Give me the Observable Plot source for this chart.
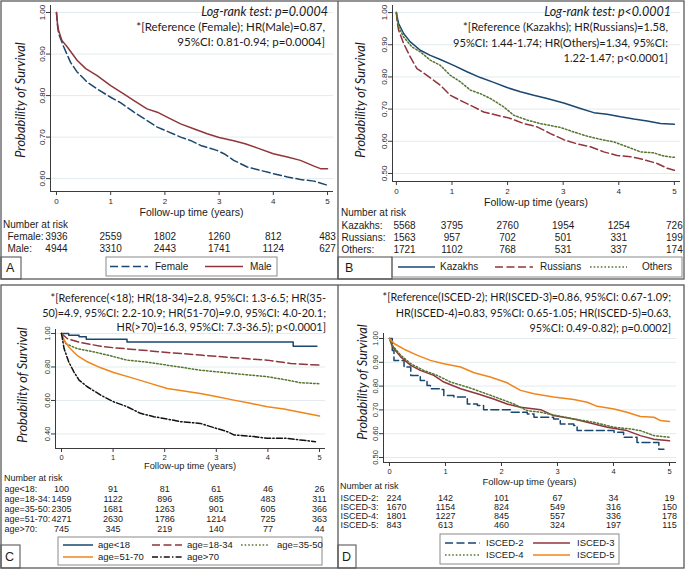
<!DOCTYPE html>
<html><head><meta charset="utf-8">
<script src="https://cdn.jsdelivr.net/npm/d3@7"></script>
<script src="https://cdn.jsdelivr.net/npm/@observablehq/plot@0.6"></script>
<style>
html,body{margin:0;padding:0;background:#fff;}
#root{position:relative;width:685px;height:570px;overflow:hidden;background:#fff;}
</style></head><body><div id="root"></div>
<script>
// ================= DATA =================
const yearTicks = [0, 1, 2, 3, 4, 5];

// ---- Panel A: sex ----
const femaleTime = [0,0.02,0.04,0.135,0.26,0.38,0.57,0.75,1.0,1.18,1.43,1.67,1.86,2.04,2.29,2.47,2.66,2.96,3.09,3.27,3.52,3.76,4.0,4.26,4.5,4.75,5.0];
const femaleSurv = [1,0.968,0.949,0.917,0.880,0.857,0.832,0.816,0.796,0.783,0.760,0.740,0.724,0.714,0.700,0.692,0.680,0.668,0.660,0.644,0.628,0.620,0.612,0.604,0.598,0.594,0.584];
const maleTime = [0,0.02,0.04,0.1,0.2,0.38,0.54,0.75,1.0,1.24,1.43,1.67,1.86,2.04,2.29,2.53,2.78,3.0,3.27,3.48,3.70,4.0,4.26,4.5,4.75,4.87,5.0];
const maleSurv = [1,0.972,0.957,0.933,0.917,0.885,0.865,0.848,0.824,0.804,0.788,0.768,0.760,0.748,0.732,0.720,0.708,0.699,0.691,0.684,0.674,0.660,0.652,0.644,0.630,0.624,0.624];
const riskFemale = [3936, 2559, 1802, 1260, 812, 483];
const riskMale = [4944, 3310, 2443, 1741, 1124, 627];

// ---- Panel B: ethnicity ----
const kazTime = [0,0.012,0.04,0.13,0.25,0.43,0.61,0.79,1.03,1.27,1.51,1.75,1.99,2.23,2.47,2.71,3.01,3.31,3.55,3.79,4.03,4.27,4.51,4.75,5.0];
const kazSurv = [1,0.987,0.966,0.935,0.909,0.883,0.867,0.854,0.836,0.816,0.798,0.783,0.767,0.754,0.743,0.733,0.719,0.702,0.689,0.684,0.676,0.669,0.663,0.655,0.653];
const rusTime = [0,0.012,0.04,0.13,0.25,0.37,0.55,0.79,0.97,1.15,1.39,1.57,1.81,2.05,2.29,2.53,2.77,3.01,3.25,3.49,3.73,3.97,4.21,4.45,4.69,4.87,5.0];
const rusSurv = [1,0.975,0.945,0.904,0.862,0.826,0.805,0.774,0.743,0.727,0.707,0.691,0.681,0.671,0.655,0.645,0.624,0.605,0.592,0.583,0.567,0.556,0.552,0.543,0.531,0.516,0.510];
const othTime = [0,0.012,0.04,0.13,0.28,0.43,0.61,0.79,0.97,1.15,1.33,1.51,1.69,1.93,2.11,2.35,2.59,2.95,3.19,3.43,3.67,3.91,4.15,4.39,4.63,4.81,5.0];
const othSurv = [1,0.982,0.955,0.924,0.893,0.878,0.852,0.836,0.805,0.785,0.759,0.748,0.733,0.707,0.681,0.666,0.655,0.643,0.629,0.616,0.606,0.598,0.583,0.567,0.564,0.554,0.550];
const riskKaz = [5568, 3795, 2760, 1954, 1254, 726];
const riskRus = [1563, 957, 702, 501, 331, 199];
const riskOth = [1721, 1102, 768, 531, 337, 174];

// ---- Panel C: age ----
const a18Time = [0,0.14,0.34,0.48,1.27,4.49,4.95];
const a18Surv = [1,0.99,0.98,0.966,0.95,0.924,0.924];
const a1834Time = [0,0.11,0.37,0.76,1.01,1.40,2.05,2.69,3.34,3.99,4.44,5.0];
const a1834Surv = [1,0.97,0.946,0.924,0.915,0.905,0.887,0.871,0.855,0.841,0.821,0.811];
const a3550Time = [0,0.08,0.30,0.63,0.95,1.27,1.60,2.05,2.69,3.34,3.99,4.37,4.63,5.0];
const a3550Surv = [1,0.94,0.91,0.89,0.867,0.841,0.831,0.811,0.781,0.761,0.742,0.722,0.706,0.70];
const a5170Time = [0,0.05,0.14,0.30,0.50,0.76,1.01,1.40,1.72,2.05,2.37,2.69,3.02,3.34,3.66,3.99,4.31,4.63,5.0];
const a5170Surv = [1,0.96,0.92,0.87,0.831,0.795,0.767,0.732,0.702,0.672,0.656,0.642,0.622,0.602,0.583,0.563,0.549,0.529,0.507];
const a70Time = [0,0.05,0.14,0.24,0.34,0.50,0.76,1.01,1.27,1.53,1.79,2.05,2.31,2.69,2.95,3.21,3.34,3.73,3.99,4.37,4.63,4.92];
const a70Surv = [1,0.91,0.831,0.771,0.722,0.682,0.632,0.592,0.563,0.523,0.503,0.489,0.473,0.463,0.438,0.414,0.394,0.384,0.374,0.374,0.364,0.354];
const riskA18 = [100, 91, 81, 61, 46, 26];
const riskA1834 = [1459, 1122, 896, 685, 483, 311];
const riskA3550 = [2305, 1681, 1263, 901, 605, 366];
const riskA5170 = [4271, 2630, 1786, 1214, 725, 363];
const riskA70 = [745, 345, 219, 140, 77, 44];

// ---- Panel D: education ----
const isc2Time = [0,0.05,0.08,0.26,0.38,0.55,0.67,0.73,0.91,0.97,1.15,1.39,1.57,1.68,2.16,2.46,2.58,2.93,3.05,3.29,3.35,4.01,4.18,4.42,4.81,4.9];
const isc2Surv = [1,0.95,0.908,0.88,0.845,0.824,0.803,0.789,0.786,0.76,0.754,0.725,0.718,0.701,0.690,0.683,0.669,0.662,0.641,0.634,0.613,0.606,0.585,0.563,0.535,0.535];
const isc3Time = [0,0.05,0.20,0.38,0.55,0.79,0.97,1.27,1.57,1.86,2.10,2.34,2.70,2.93,3.29,3.53,3.89,4.24,4.48,4.72,5.0];
const isc3Surv = [1,0.965,0.923,0.887,0.866,0.845,0.817,0.789,0.768,0.746,0.725,0.711,0.701,0.676,0.662,0.648,0.627,0.613,0.592,0.577,0.570];
const isc4Time = [0,0.05,0.20,0.38,0.61,0.85,1.09,1.39,1.68,1.98,2.22,2.46,2.70,2.99,3.29,3.65,4.01,4.30,4.48,4.72,5.0];
const isc4Surv = [1,0.972,0.93,0.894,0.866,0.845,0.817,0.796,0.772,0.746,0.725,0.697,0.690,0.676,0.662,0.648,0.627,0.620,0.613,0.592,0.585];
const isc5Time = [0,0.08,0.26,0.49,0.73,0.97,1.27,1.51,1.80,2.10,2.34,2.58,2.93,3.29,3.53,3.71,4.01,4.24,4.48,4.72,4.84,5.0];
const isc5Surv = [1,0.979,0.955,0.93,0.908,0.894,0.88,0.856,0.838,0.814,0.782,0.768,0.754,0.744,0.732,0.715,0.704,0.69,0.672,0.669,0.655,0.651];
const riskIsc2 = [224, 142, 101, 67, 34, 19];
const riskIsc3 = [1670, 1154, 824, 549, 316, 150];
const riskIsc4 = [1801, 1227, 845, 557, 336, 178];
const riskIsc5 = [843, 613, 460, 324, 197, 115];

// ---- Texts ----
const annotA = ["Log-rank test: p=0.0004", "*[Reference (Female); HR(Male)=0.87,", "95%CI: 0.81-0.94; p=0.0004]"];
const annotB = ["Log-rank test: p<0.0001", "*[Reference (Kazakhs); HR(Russians)=1.58,", "95%CI: 1.44-1.74; HR(Others)=1.34, 95%CI:", "1.22-1.47; p<0.0001]"];
const annotC = ["*[Reference(<18); HR(18-34)=2.8, 95%CI: 1.3-6.5; HR(35-", "50)=4.9, 95%CI: 2.2-10.9; HR(51-70)=9.0, 95%CI: 4.0-20.1;", "HR(>70)=16.3, 95%CI: 7.3-36.5); p<0.0001]"];
const annotD = ["*[Reference(ISCED-2); HR(ISCED-3)=0.86, 95%CI: 0.67-1.09;", "HR(ISCED-4)=0.83, 95%CI: 0.65-1.05; HR(ISCED-5)=0.63,", "95%CI: 0.49-0.82); p=0.0002]"];

// ================= STYLE / LAYOUT =================
const SANS = "'Liberation Sans', Arial, Helvetica, sans-serif";
const HUM = "Lato, 'Open Sans', sans-serif";
const GRID = "#e2ebee", AXIS = "#3a3a3a", INK = "#1b1b1b", BORDER = "#5a5a5a";
const NAVY = "#1a476f", MAROON = "#90353b", GREEN = "#55752f", ORANGE = "#f08519", BLACK = "#111111";
const DASH = "8,3.5", DOT = "1.6,2", DASHDOT = "6,2.2,1.4,2.2";

const root = document.getElementById("root");

const deco = d3.create("svg").attr("width", 685).attr("height", 570)
  .style("position", "absolute").style("left", "0px").style("top", "0px");
root.appendChild(deco.node());

function rect(x1, y1, x2, y2, stroke, sw) {
  deco.append("rect").attr("x", x1).attr("y", y1).attr("width", x2 - x1).attr("height", y2 - y1)
    .attr("fill", "none").attr("stroke", stroke).attr("stroke-width", sw);
}
function seg(x1, y1, x2, y2, stroke, sw, dash) {
  deco.append("line").attr("x1", x1).attr("y1", y1).attr("x2", x2).attr("y2", y2)
    .attr("stroke", stroke).attr("stroke-width", sw).attr("stroke-dasharray", dash || null);
}
function addText(str, x, y, o = {}) {
  const d = document.createElement("div");
  d.textContent = str;
  const size = o.size || 10;
  const tx = o.anchor === "end" ? "-100%" : o.anchor === "middle" ? "-50%" : "0";
  Object.assign(d.style, {
    position: "absolute", left: x + "px", top: y + "px", whiteSpace: "pre",
    fontFamily: o.font || SANS, fontSize: size + "px", lineHeight: size + "px",
    fontStyle: o.italic ? "italic" : "normal", color: o.color || INK,
    transform: `translate(${tx}, -50%)` + (o.rotate ? ` rotate(${o.rotate}deg)` : "")
  });
  root.appendChild(d);
}

// Panel frames (two rows, each split in two)
rect(1, 1, 684, 279, BORDER, 1.3); seg(338, 1, 338, 279, BORDER, 1.3);
rect(1, 285, 684, 568, BORDER, 1.3); seg(338, 285, 338, 568, BORDER, 1.3);

const panels = [
  {
    letter: "A", ox: 0, oy: 0, w: 338, h: 279,
    frame: {l: 50, r: 333, t: 5, b: 191}, xDomain: [-0.11, 5.11], yDomain: [0.569, 1.017],
    yTicks: [0.6, 0.7, 0.8, 0.9, 1.0], tickFont: 8, xPad: 3,
    series: [
      {name: "Female", time: femaleTime, surv: femaleSurv, risk: riskFemale, color: NAVY, dash: DASH},
      {name: "Male", time: maleTime, surv: maleSurv, risk: riskMale, color: MAROON, dash: null}
    ],
    annot: annotA, annotX: 327, annotY: [12, 27, 42], logrank: true, annotSize: 11.5,
    yTitle: {x: 20, y: 100, size: 12.8}, xTitle: {y: 212, size: 10.5},
    risk: {hx: 3, hy: 225, rows: [236, 248], lx: 7, size: 10, firstStart: false},
    legend: {box: [106, 257, 277, 276], size: 10, items: [
      {x1: 110, x2: 148, tx: 155, y: 266.5}, {x1: 205, x2: 243, tx: 250, y: 266.5}]},
    letterBox: [1, 257, 21, 279], letterPos: [6, 268]
  },
  {
    letter: "B", ox: 338, oy: 0, w: 346, h: 279,
    frame: {l: 392, r: 680, t: 5, b: 181}, xDomain: [-0.07, 5.11], yDomain: [0.475, 1.022],
    yTicks: [0.5, 0.6, 0.7, 0.8, 0.9, 1.0], tickFont: 8, xPad: 3,
    series: [
      {name: "Kazakhs", time: kazTime, surv: kazSurv, risk: riskKaz, color: NAVY, dash: null},
      {name: "Russians", time: rusTime, surv: rusSurv, risk: riskRus, color: MAROON, dash: DASH},
      {name: "Others", time: othTime, surv: othSurv, risk: riskOth, color: GREEN, dash: DOT}
    ],
    annot: annotB, annotX: 670, annotY: [12, 27, 43, 58], logrank: true, annotSize: 11.1,
    yTitle: {x: 360, y: 100, size: 12.8}, xTitle: {y: 202, size: 10.5},
    risk: {hx: 341, hy: 213, rows: [225, 249], lx: 341, size: 10, firstStart: true},
    legend: {box: [392, 257, 682, 277], size: 10, items: [
      {x1: 398, x2: 435, tx: 440, y: 267}, {x1: 495, x2: 533, tx: 540, y: 267}, {x1: 590, x2: 627, tx: 642, y: 267}]},
    letterBox: [338, 257, 392, 279], letterPos: [345, 268]
  },
  {
    letter: "C", ox: 0, oy: 285, w: 338, h: 283,
    frame: {l: 55, r: 325, t: 329, b: 448}, xDomain: [-0.116, 5.116], yDomain: [0.313, 1.024],
    yTicks: [0.4, 0.6, 0.8, 1.0], tickFont: 7.5, xPad: 2,
    series: [
      {name: "age<18", label: "age<18:", time: a18Time, surv: a18Surv, risk: riskA18, color: NAVY, dash: null, curve: "step-after"},
      {name: "age=18-34", label: "age=18-34:", time: a1834Time, surv: a1834Surv, risk: riskA1834, color: MAROON, dash: DASH},
      {name: "age=35-50", label: "age=35-50:", time: a3550Time, surv: a3550Surv, risk: riskA3550, color: GREEN, dash: DOT},
      {name: "age=51-70", label: "age=51-70:", time: a5170Time, surv: a5170Surv, risk: riskA5170, color: ORANGE, dash: null},
      {name: "age>70", label: "age>70:", time: a70Time, surv: a70Surv, risk: riskA70, color: BLACK, dash: DASHDOT}
    ],
    annot: annotC, annotX: 328, annotY: [298, 313, 327], logrank: false, annotSize: 10.9,
    yTitle: {x: 22, y: 385, size: 12.8}, xTitle: {y: 467, size: 9.3},
    risk: {hx: 4, hy: 478, rows: [489, 529], lx: 4, size: 9, firstStart: false},
    legend: {box: [58, 537, 322, 565], size: 9.5, items: [
      {x1: 63, x2: 93, tx: 98, y: 545}, {x1: 152, x2: 182, tx: 187, y: 545}, {x1: 241, x2: 268, tx: 277, y: 545},
      {x1: 63, x2: 93, tx: 98, y: 557}, {x1: 152, x2: 182, tx: 187, y: 557}]},
    letterBox: [1, 545, 20, 568], letterPos: [5, 557]
  },
  {
    letter: "D", ox: 338, oy: 285, w: 346, h: 283,
    frame: {l: 383, r: 676, t: 333, b: 462}, xDomain: [-0.107, 5.125], yDomain: [0.479, 1.021],
    yTicks: [0.5, 0.6, 0.7, 0.8, 0.9, 1.0], tickFont: 7.5, xPad: 2,
    series: [
      {name: "ISCED-2", label: "ISCED-2:", time: isc2Time, surv: isc2Surv, risk: riskIsc2, color: NAVY, dash: DASH, curve: "step-after"},
      {name: "ISCED-3", label: "ISCED-3:", time: isc3Time, surv: isc3Surv, risk: riskIsc3, color: MAROON, dash: null},
      {name: "ISCED-4", label: "ISCED-4:", time: isc4Time, surv: isc4Surv, risk: riskIsc4, color: GREEN, dash: DOT},
      {name: "ISCED-5", label: "ISCED-5:", time: isc5Time, surv: isc5Surv, risk: riskIsc5, color: ORANGE, dash: null}
    ],
    annot: annotD, annotX: 673, annotY: [297, 313, 328], logrank: false, annotSize: 10.8,
    yTitle: {x: 362, y: 382, size: 12.8}, xTitle: {y: 482, size: 9.5},
    risk: {hx: 340, hy: 486, rows: [497, 526], lx: 340, size: 9, firstStart: true},
    legend: {box: [440, 534, 619, 564], size: 9.5, items: [
      {x1: 445, x2: 480, tx: 486, y: 543}, {x1: 533, x2: 570, tx: 577, y: 543},
      {x1: 445, x2: 480, tx: 486, y: 555}, {x1: 533, x2: 570, tx: 577, y: 555}]},
    letterBox: [338, 545, 356, 568], letterPos: [342, 557]
  }
];

function place(svg, x, y) {
  svg.style.position = "absolute";
  svg.style.left = x + "px";
  svg.style.top = y + "px";
  root.appendChild(svg);
}

for (const p of panels) {
  const {ox, oy, w, h, frame} = p;
  const ml = frame.l - ox, mr = ox + w - frame.r;
  const mt = frame.t - oy, mb = oy + h - frame.b;

  // ---- survival curves ----
  const marks = [
    Plot.gridY(p.yTicks, {stroke: GRID, strokeOpacity: 1, strokeWidth: 1}),
    ...p.series.map(s => Plot.line(
      d3.zip(s.time, s.surv).map(([t, v]) => ({t, v})),
      {x: "t", y: "v", stroke: s.color, strokeWidth: 1.5, strokeDasharray: s.dash, curve: s.curve || "linear"})),
    Plot.ruleX([p.xDomain[0]], {stroke: AXIS, strokeWidth: 1}),
    Plot.ruleY([p.yDomain[0]], {stroke: AXIS, strokeWidth: 1}),
    Plot.axisX(yearTicks, {tickSize: 4, tickPadding: p.xPad, tickFormat: d => String(d), label: null, stroke: AXIS}),
    Plot.axisY(p.yTicks, {tickSize: 4, tickPadding: 2, tickRotate: -90, tickFormat: d3.format(".2f"), label: null, stroke: AXIS})
  ];
  const chart = Plot.plot({
    width: w, height: h, marginLeft: ml, marginRight: mr, marginTop: mt, marginBottom: mb,
    x: {domain: p.xDomain}, y: {domain: p.yDomain},
    style: {background: "transparent", fontFamily: SANS, fontSize: p.tickFont + "px", color: "#2a2a2a", overflow: "visible"},
    marks
  });
  place(chart, ox, oy);

  // ---- number-at-risk table ----
  const riskRows = p.series.flatMap(s => s.risk.map((n, i) => ({t: yearTicks[i], g: s.name, n})));
  const firstCol = riskRows.filter(d => d.t === yearTicks[0]);
  const otherCols = riskRows.filter(d => d.t !== yearTicks[0]);
  const table = Plot.plot({
    width: w, height: h, marginLeft: ml, marginRight: mr, marginTop: 0, marginBottom: 0,
    x: {domain: p.xDomain, axis: null},
    y: {type: "point", domain: p.series.map(s => s.name), range: [p.risk.rows[0] - oy, p.risk.rows[1] - oy], padding: 0, axis: null},
    style: {background: "transparent", fontFamily: SANS, fontSize: p.risk.size + "px", color: INK, overflow: "visible"},
    marks: [
      Plot.text(otherCols, {x: "t", y: "g", text: d => String(d.n), textAnchor: "middle", fill: INK}),
      Plot.text(firstCol, {x: "t", y: "g", text: d => String(d.n), textAnchor: p.risk.firstStart ? "start" : "middle", dx: p.risk.firstStart ? -3 : 0, fill: INK}),
      Plot.text(p.series, {y: "name", text: s => s.label || (s.name + ":"), frameAnchor: "left", textAnchor: "start", dx: p.risk.lx - frame.l, fill: INK})
    ]
  });
  place(table, ox, oy);
  addText("Number at risk", p.risk.hx, p.risk.hy, {size: p.risk.size});

  // ---- titles and annotations ----
  addText("Follow-up time (years)", (frame.l + frame.r) / 2, p.xTitle.y, {size: p.xTitle.size, anchor: "middle"});
  addText("Probability of Survival", p.yTitle.x, p.yTitle.y, {font: HUM, size: p.yTitle.size, italic: true, anchor: "middle", rotate: -90});
  p.annot.forEach((line, i) => {
    const isLR = p.logrank && i === 0;
    addText(line, isLR ? p.annotX + 1 : p.annotX - 2, p.annotY[i], {font: HUM, size: isLR ? 12.5 : p.annotSize, italic: isLR, anchor: "end"});
  });

  // ---- legend ----
  const lb = p.legend.box;
  rect(lb[0], lb[1], lb[2], lb[3], "#8a8a8a", 1);
  p.series.forEach((s, i) => {
    const it = p.legend.items[i];
    seg(it.x1, it.y, it.x2, it.y, s.color, 1.5, s.dash);
    addText(s.name, it.tx, it.y, {size: p.legend.size});
  });

  // ---- panel letter ----
  const b = p.letterBox;
  rect(b[0], b[1], b[2], b[3], BORDER, 1.1);
  addText(p.letter, p.letterPos[0], p.letterPos[1], {size: 12.5});
}
</script>
</body></html>
